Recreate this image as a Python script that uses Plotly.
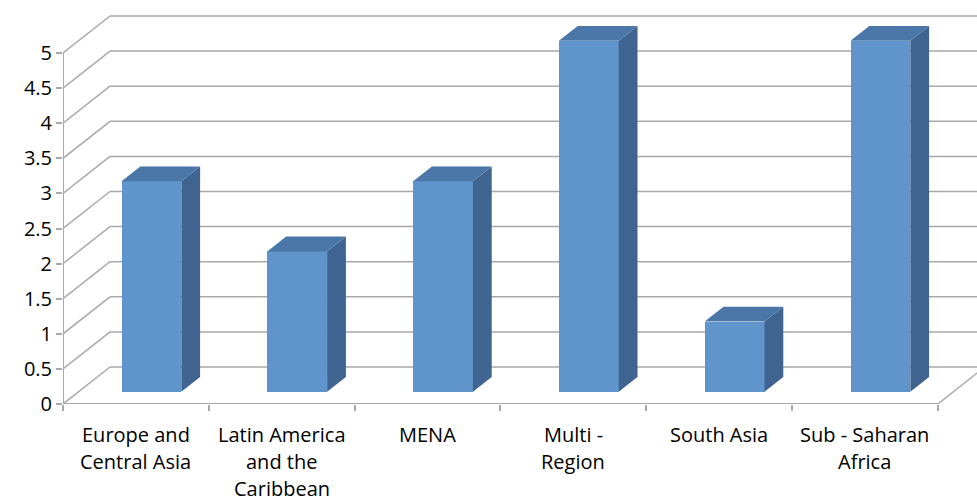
import plotly.graph_objects as go

# Projects by region (3-D style column chart)
category_lines = [
    ["Europe and", "Central Asia"],
    ["Latin America", "and the", "Caribbean"],
    ["MENA"],
    ["Multi -", "Region"],
    ["South Asia"],
    ["Sub - Saharan", "Africa"],
]
values = [3, 2, 3, 5, 1, 5]
y_ticks = [0, 0.5, 1, 1.5, 2, 2.5, 3, 3.5, 4, 4.5, 5]
y_tick_labels = ["0", "0.5", "1", "1.5", "2", "2.5", "3", "3.5", "4", "4.5", "5"]

# Oblique projection: depth offsets expressed in data units
PX_X = 145.8          # pixels per category
PX_Y = 70.2           # pixels per value unit
DX = 47 / PX_X        # full depth, horizontal shift
DY = 37 / PX_Y        # full depth, vertical shift
F0, F1 = 0.33, 0.73   # bar depth span (fraction of floor depth)
BAR_W = 0.41

FRONT = "#5F95CB"
TOP = "#4A77A8"
SIDE = "#3F648F"
GRID = "#A9A9A9"
FONT = dict(family="Open Sans", size=20, color="#000000")

n = len(values)
x_lo, x_hi = -0.5, n - 0.5

fig = go.Figure()

# Front faces of the columns
fig.add_trace(go.Bar(
    x=[i + F0 * DX for i in range(n)],
    y=values,
    base=F0 * DY,
    width=BAR_W,
    marker=dict(color=FRONT, line=dict(width=0)),
    hoverinfo="skip",
    showlegend=False,
))

ddx = (F1 - F0) * DX
ddy = (F1 - F0) * DY
b = F0 * DY
for i, v in enumerate(values):
    xl = i + F0 * DX - BAR_W / 2
    xr = i + F0 * DX + BAR_W / 2
    # right side face
    fig.add_trace(go.Scatter(
        x=[xr, xr, xr + ddx, xr + ddx, xr],
        y=[b, b + v, b + v + ddy, b + ddy, b],
        fill="toself", fillcolor=SIDE, mode="lines",
        line=dict(width=0, color=SIDE), hoverinfo="skip", showlegend=False,
    ))
    # top face
    fig.add_trace(go.Scatter(
        x=[xl, xr, xr + ddx, xl + ddx, xl],
        y=[b + v, b + v, b + v + ddy, b + v + ddy, b + v],
        fill="toself", fillcolor=TOP, mode="lines",
        line=dict(width=0, color=TOP), hoverinfo="skip", showlegend=False,
    ))

shapes = []
line_style = dict(color=GRID, width=1.5)
for t in y_ticks:
    # back wall gridline
    shapes.append(dict(type="line", xref="x", yref="y", layer="below",
                       x0=x_lo + DX, y0=t + DY, x1=x_hi + DX, y1=t + DY,
                       line=line_style))
    # side wall gridline
    shapes.append(dict(type="line", xref="x", yref="y", layer="below",
                       x0=x_lo, y0=t, x1=x_lo + DX, y1=t + DY,
                       line=line_style))
# floor edges and vertical axis line
shapes.append(dict(type="line", xref="x", yref="y", layer="below",
                   x0=x_lo, y0=0, x1=x_hi, y1=0, line=dict(color=GRID, width=2)))
shapes.append(dict(type="line", xref="x", yref="y", layer="below",
                   x0=x_hi, y0=0, x1=x_hi + DX, y1=DY, line=line_style))
shapes.append(dict(type="line", xref="x", yref="y", layer="below",
                   x0=x_lo, y0=0, x1=x_lo, y1=y_ticks[-1], line=dict(color=GRID, width=2)))

# Category labels, one annotation per text line
annotations = []
for i, lines in enumerate(category_lines):
    for k, txt in enumerate(lines):
        annotations.append(dict(
            x=i, y=0, xref="x", yref="y", text=txt, showarrow=False,
            xanchor="center", yanchor="middle", yshift=-30 - 27 * k,
            font=FONT,
        ))

W, H = 977, 502
ML, MB = 63, 98
fig.update_layout(
    width=W, height=H,
    margin=dict(l=ML, r=0, t=0, b=MB, pad=0),
    paper_bgcolor="white", plot_bgcolor="white",
    shapes=shapes, annotations=annotations,
    bargap=0,
    xaxis=dict(
        range=[x_lo, x_lo + (W - ML) / PX_X],
        tickvals=[x_lo + k for k in range(n + 1)],
        showticklabels=False, ticks="outside", ticklen=6, tickwidth=2,
        tickcolor=GRID, showgrid=False, zeroline=False, showline=False,
        fixedrange=True,
    ),
    yaxis=dict(
        range=[0, (H - MB) / PX_Y],
        tickvals=y_ticks, ticktext=y_tick_labels,
        ticks="outside", ticklen=6, tickwidth=2, tickcolor=GRID,
        tickfont=FONT,
        showgrid=False, zeroline=False, showline=False, fixedrange=True,
    ),
)

fig.write_html("out.html")
